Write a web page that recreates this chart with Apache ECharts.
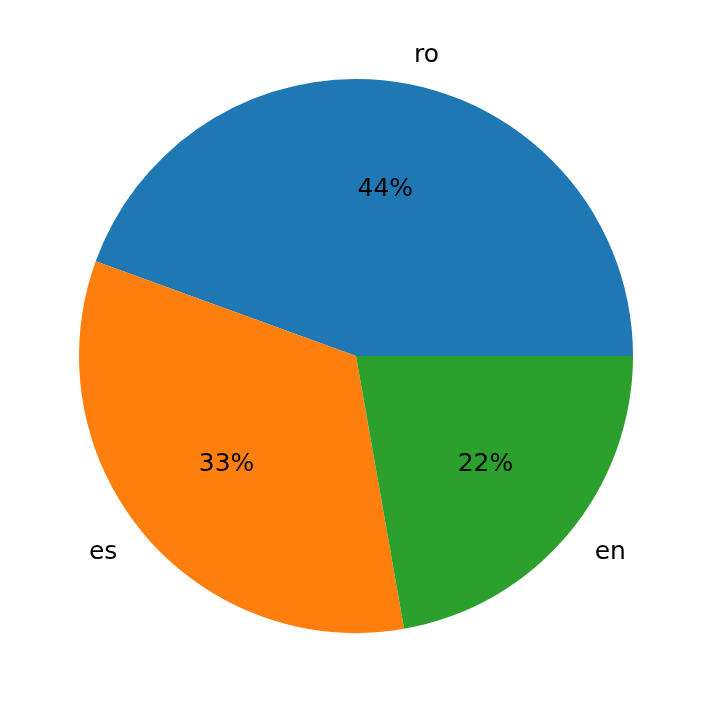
<!DOCTYPE html>
<html><head><meta charset="utf-8">
<script src="https://cdn.jsdelivr.net/npm/echarts@6/dist/echarts.min.js"></script>
<style>html,body{margin:0;padding:0;background:#fff}#c{width:712px;height:713px}</style>
</head><body><div id="c"></div>
<script>
const categories = ['ro', 'es', 'en'];
const values = [4, 3, 2];
const colors = ['#1f77b4', '#ff7f0e', '#2ca02c'];
const data = categories.map((n, i) => ({name: n, value: values[i], itemStyle: {color: colors[i]}}));
const font = {fontFamily: 'DejaVu Sans', fontSize: 25, color: '#000'};
const chart = echarts.init(document.getElementById('c'));
chart.setOption({
  animation: false,
  series: [
    {
      type: 'pie', center: [356, 356], radius: [0, 277], startAngle: 0, clockwise: false,
      data: data, silent: true,
      label: Object.assign({show: true, position: 'outside', formatter: '{b}'}, font),
      labelLine: {show: false, length: 28, length2: 0},
      emphasis: {disabled: true}
    },
    {
      type: 'pie', center: [356, 356], radius: [0, 332], startAngle: 0, clockwise: false,
      data: data.map(d => ({name: d.name, value: d.value, itemStyle: {color: 'rgba(0,0,0,0)'}})),
      silent: true,
      label: Object.assign({show: true, position: 'inside', formatter: p => Math.round(p.percent) + '%'}, font),
      labelLine: {show: false},
      emphasis: {disabled: true}
    }
  ]
});
</script></body></html>
